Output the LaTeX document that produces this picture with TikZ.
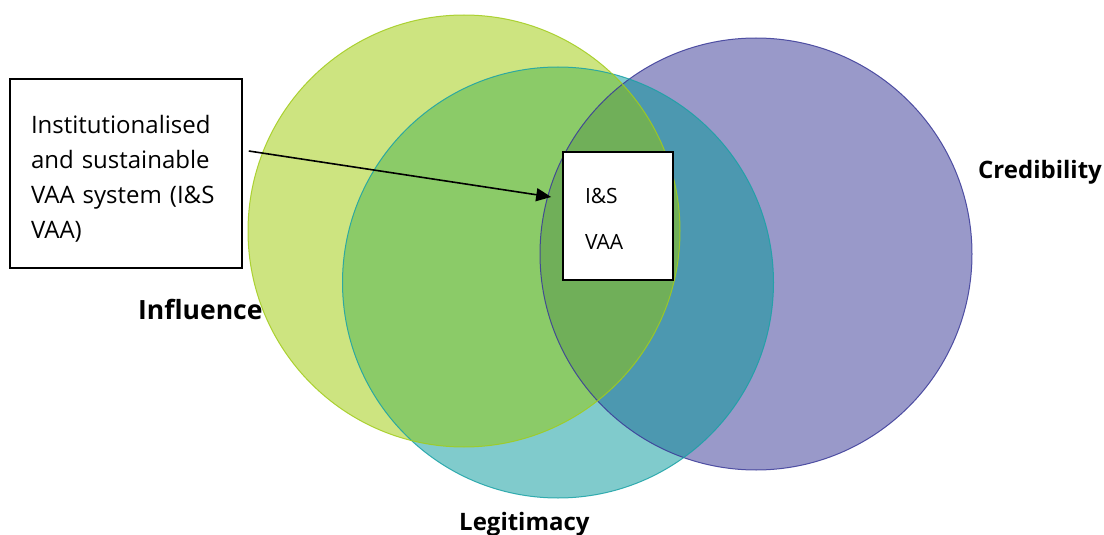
\documentclass[tikz,border=0pt]{standalone}
\usepackage{fontspec}
\setmainfont{Open Sans}
\usetikzlibrary{arrows.meta}
\definecolor{cI}{HTML}{CDE480}
\definecolor{cL}{HTML}{80CBCC}
\definecolor{cC}{HTML}{9999C9}
\definecolor{cIL}{HTML}{8BCB68}
\definecolor{cLC}{HTML}{4C98B0}
\definecolor{cIC}{HTML}{6FAE88}
\definecolor{cILC}{HTML}{70AF59}
\definecolor{eI}{HTML}{A2CC1C}
\definecolor{eL}{HTML}{1AA2A6}
\definecolor{eC}{HTML}{3A3A98}
\tikzset{
  boxnode/.style={draw=black, line width=1.6pt, fill=white, align=left, inner sep=0pt},
  biglabel/.style={font=\fontsize{24}{28}\selectfont\bfseries, anchor=base west, inner sep=0pt},
  arr/.style={line width=1.6pt, -{Triangle[length=15pt,width=13pt]}},
  edge/.style={line width=1pt, draw opacity=0.85}
}
\def\circI{(464,231) circle[radius=216pt]}
\def\circL{(558,282.5) circle[radius=215.5pt]}
\def\circC{(756,254) circle[radius=216pt]}
\begin{document}
\begin{tikzpicture}[x=1pt,y=-1pt]
\useasboundingbox (0,0) rectangle (1104,535);
% circles
\fill[cI] \circI;
\fill[cL] \circL;
\fill[cC] \circC;
\begin{scope}\clip \circI; \fill[cIL] \circL; \end{scope}
\begin{scope}\clip \circL; \fill[cLC] \circC; \end{scope}
\begin{scope}\clip \circI; \fill[cIC] \circC; \end{scope}
\begin{scope}\clip \circI; \clip \circL; \fill[cILC] \circC; \end{scope}
\draw[edge, eC] \circC;
\draw[edge, eL] \circL;
\draw[edge, eI] \circI;
% labels
\node[biglabel, font=\fontsize{26.5}{30}\selectfont\bfseries] (infl) at (138,319) {Influence};
\node[biglabel] (cred) at (978,178) {Credibility};
\node[biglabel] (legit) at (459,530) {Legitimacy};
% boxes
\node[boxnode, minimum width=232pt, minimum height=189pt, text width=190pt,
      font=\fontsize{24}{35}\selectfont] (txt) at (126,173.5)
  {\rule{0pt}{28pt}Institutionalised\\and sustainable\\VAA system (I\&S\\VAA)};
\node[boxnode, minimum width=110pt, minimum height=128pt, text width=66pt,
      font=\fontsize{21}{46}\selectfont] (iss) at (618,216)
  {\rule{0pt}{20pt}I\&S\\VAA};
\draw[arr] ([xshift=6pt,yshift=22.5pt]txt.east) -- ([xshift=-11pt,yshift=19pt]iss.west);
\end{tikzpicture}
\end{document}
